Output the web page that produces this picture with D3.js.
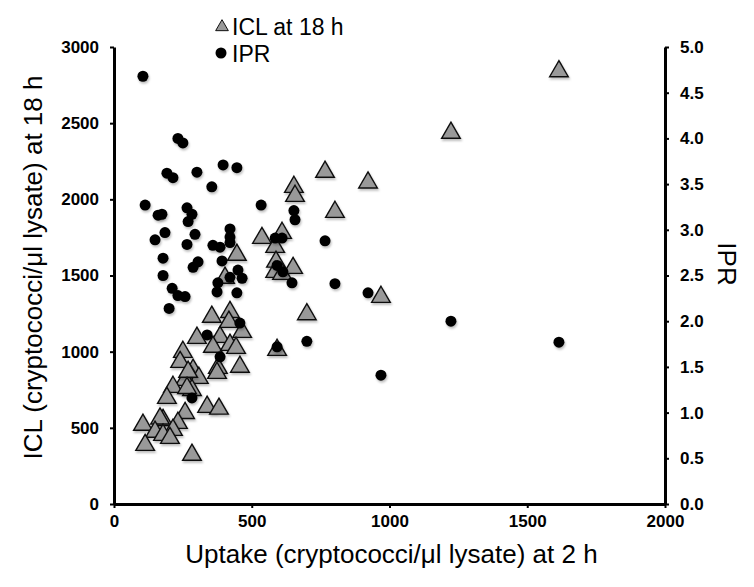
<!DOCTYPE html>
<html>
<head>
<meta charset="utf-8">
<script src="https://cdn.jsdelivr.net/npm/d3@7"></script>
<style>
  body { margin: 0; background: #fff; }
  svg { display: block; }
  text { font-family: "Liberation Sans", Arial, Helvetica, sans-serif; }
</style>
</head>
<body>
<script>
// ICL at 18 h (triangles): [uptake, ICL]
const iclUptake = [1615,1223,766,922,653,657,802,610,537,585,588,585,610,650,969,700,592,446,403,355,421,417,465,301,385,359,421,443,250,240,377,457,374,287,276,308,258,214,283,192,338,381,258,105,178,167,232,214,149,178,203,113,283,269,265];
const iclValues = [2840,2436,2180,2110,2081,2022,1917,1779,1746,1687,1590,1523,1510,1549,1359,1245,1011,1635,1484,1228,1260,1195,1129,1090,1096,1031,1044,1024,998,932,893,900,860,880,847,827,814,768,748,696,637,625,597,519,551,560,532,486,473,453,433,387,322,867,761];
// IPR (dots): [uptake, IPR]
const iprUptake = [105,232,250,192,214,301,396,446,355,113,160,174,265,283,269,185,149,294,265,421,421,421,359,385,178,392,305,287,450,465,421,377,374,446,178,211,232,258,200,534,653,657,585,610,592,613,646,766,802,922,1223,700,969,1615,592,457,338,385,283];
const iprValues = [4.68,4.00,3.95,3.62,3.57,3.63,3.71,3.68,3.47,3.27,3.16,3.17,3.24,3.17,3.09,2.97,2.89,2.95,2.84,3.01,2.92,2.86,2.83,2.81,2.69,2.66,2.65,2.59,2.56,2.47,2.48,2.42,2.32,2.31,2.50,2.36,2.28,2.27,2.14,3.27,3.21,3.11,2.91,2.91,2.61,2.54,2.42,2.88,2.41,2.31,2.00,1.78,1.41,1.77,1.72,1.98,1.85,1.61,1.16];

const xTicks = [0,500,1000,1500,2000];
const yTicks = [0,500,1000,1500,2000,2500,3000];
const y2Ticks = [0,0.5,1.0,1.5,2.0,2.5,3.0,3.5,4.0,4.5,5.0];

const W = 754, H = 587;
const L = 114, R = 665, T = 47, B = 504;

const svg = d3.select("body").append("svg").attr("width", W).attr("height", H);

const defs = svg.append("defs");
const f = defs.append("filter").attr("id","sh").attr("x","-50%").attr("y","-50%").attr("width","200%").attr("height","200%");
f.append("feDropShadow").attr("dx",1).attr("dy",2).attr("stdDeviation",1.2).attr("flood-color","#000").attr("flood-opacity",0.25);

const x = d3.scaleLinear().domain([0,2000]).range([L,R]);
const y = d3.scaleLinear().domain([0,3000]).range([B,T]);
const y2 = d3.scaleLinear().domain([0,5]).range([B,T]);

const axStyle = g => {
  g.select(".domain").attr("stroke","#000").attr("stroke-width",3);
  g.selectAll(".tick line").attr("stroke","#000").attr("stroke-width",2);
  g.selectAll(".tick text").attr("font-size",17).attr("font-weight","bold").attr("fill","#000")
   .attr("font-family","'Liberation Sans', Arial, sans-serif");
};

svg.append("g").attr("transform",`translate(0,${B})`)
  .call(d3.axisBottom(x).tickValues(xTicks).tickFormat(d3.format("d")).tickSize(4).tickSizeOuter(0).tickPadding(7))
  .call(axStyle);

svg.append("g").attr("transform",`translate(${L},0)`)
  .call(d3.axisLeft(y).tickValues(yTicks).tickFormat(d3.format("d")).tickSize(4).tickSizeOuter(0).tickPadding(11))
  .call(axStyle);

svg.append("g").attr("transform",`translate(${R},0)`)
  .call(d3.axisRight(y2).tickValues(y2Ticks).tickFormat(d3.format(".1f")).tickSize(4).tickSizeOuter(0).tickPadding(11))
  .call(axStyle);

// titles
svg.append("text").attr("x",(L+R)/2 + 2).attr("y",563).attr("text-anchor","middle")
  .attr("font-size",26).text("Uptake (cryptococci/\u03BCl lysate) at 2 h");
svg.append("text").attr("transform",`translate(42,${(T+B)/2 - 8}) rotate(-90)`).attr("text-anchor","middle")
  .attr("font-size",26).text("ICL (cryptococci/\u03BCl lysate) at 18 h");
svg.append("text").attr("transform",`translate(718,264) rotate(90)`).attr("text-anchor","middle")
  .attr("font-size",26).text("IPR");

// marks
const tri = d3.symbol().type(d3.symbolTriangle).size(150);
svg.append("g").selectAll("path").data(iclUptake.map((u,i)=>[u,iclValues[i]])).join("path")
  .attr("d", tri)
  .attr("transform", d => `translate(${x(d[0])},${y(d[1])})`)
  .attr("fill","#999").attr("stroke","#111").attr("stroke-width",1.4)
  .attr("filter","url(#sh)");

svg.append("g").selectAll("circle").data(iprUptake.map((u,i)=>[u,iprValues[i]])).join("circle")
  .attr("cx", d => x(d[0])).attr("cy", d => y2(d[1])).attr("r",5.5)
  .attr("fill","#000").attr("filter","url(#sh)");

// legend
const lg = svg.append("g");
lg.append("path").attr("d", d3.symbol().type(d3.symbolTriangle).size(70))
  .attr("transform","translate(222,27)").attr("fill","#999").attr("stroke","#111").attr("stroke-width",1);
lg.append("text").attr("x",232).attr("y",35).attr("font-size",23).text("ICL at 18 h");
lg.append("circle").attr("cx",221).attr("cy",53).attr("r",5.5).attr("fill","#000");
lg.append("text").attr("x",232).attr("y",62).attr("font-size",23).text("IPR");
</script>
</body>
</html>
